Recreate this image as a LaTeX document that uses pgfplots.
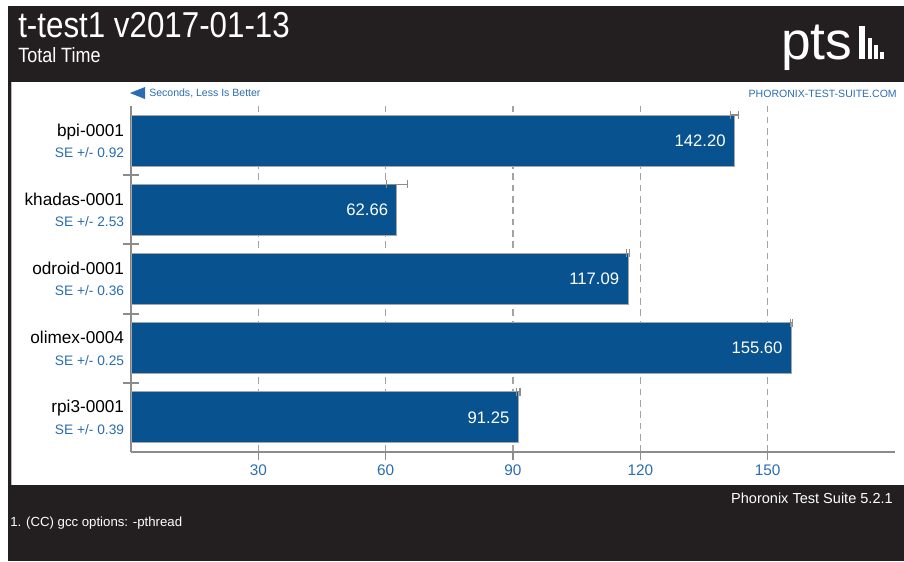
\documentclass[border=0pt]{standalone}
\usepackage{fontspec}
\setmainfont{Liberation Sans}
\newfontfamily\cond[FakeStretch=0.87]{Liberation Sans}
\usepackage{pgfplots}
\pgfplotsset{compat=1.18}
\usepackage{pgfplotstable}
\definecolor{ptsdark}{HTML}{231F20}
\definecolor{ptsbar}{HTML}{07528F}
\definecolor{ptsblue}{HTML}{2A6DB0}
\definecolor{ptsgray}{HTML}{8C8C8C}
\pgfdeclareplotmark{dcap}{\pgfpathmoveto{\pgfqpoint{0pt}{0pt}}\pgfpathlineto{\pgfqpoint{0pt}{-\pgfplotmarksize}}\pgfusepathqstroke}
% i: position (bottom=0), v: seconds, se: standard error, yt: top edge of bar
\pgfplotstableread{
i v se yt lab
4 142.20 0.92 4.37 142.20
3 62.66 2.53 3.37 62.66
2 117.09 0.36 2.37 117.09
1 155.60 0.25 1.37 155.60
0 91.25 0.39 0.37 91.25
}\data
\begin{document}
\begin{tikzpicture}
\begin{scope}[x=0.75pt,y=-0.75pt]
\useasboundingbox (0,0) rectangle (904,561);
\fill[white] (0,0) rectangle (904,561);
\fill[ptsdark] (8,6) rectangle (904,561);
\fill[white] (11,82) rectangle (904,485);
\draw[ptsgray!60, line width=0.8pt] (11.5,82) -- (11.5,485);
\node[anchor=base west, text=white, inner sep=0pt, font=\cond\fontsize{27}{27}\selectfont] at (18,37) {t-test1 v2017-01-13};
\node[anchor=base west, text=white, inner sep=0pt, font=\cond\fontsize{15.5}{16}\selectfont] at (18,62) {Total Time};
% logo
\node[anchor=base west, text=white, inner sep=0pt, font=\fontsize{40}{40}\selectfont] at (781,59) {pts};
\fill[white] (859,26) rectangle (865,59);
\fill[white] (868,38) rectangle (872,59);
\fill[white] (874,45) rectangle (878,59);
\fill[white] (880,52) rectangle (884,59);
% header strip
\fill[ptsblue] (130,93) -- (145,87) -- (145,99) -- cycle;
\node[anchor=west, text=ptsblue, inner sep=0pt, font=\fontsize{7.9}{8}\selectfont] at (149,93.5) {Seconds, Less Is Better};
\node[anchor=east, text=ptsblue, inner sep=0pt, font=\fontsize{7.9}{8}\selectfont] at (897,93.5) {PHORONIX-TEST-SUITE.COM};
% footer
\node[anchor=base east, text=white, inner sep=0pt, font=\fontsize{10.9}{11}\selectfont] at (893,503) {Phoronix Test Suite 5.2.1};
\node[anchor=base west, text=white, inner sep=0pt, font=\fontsize{9.9}{11}\selectfont] at (10,526) {1. (CC) gcc options: -pthread};
\end{scope}
\begin{axis}[
  at={(98.25pt,-339pt)}, anchor=south west,
  scale only axis, width=573pt, height=259.5pt,
  xmin=0, xmax=180, ymin=-0.5, ymax=4.5,
  xbar, bar width=38.25pt, bar shift=0pt,
  axis x line*=bottom, axis y line*=left,
  axis line style={ptsgray, line width=1pt},
  xtick={30,60,90,120,150},
  ytick={0,1,2,3,4},
  /pgf/number format/assume math mode=true,
  yticklabels={
    {rpi3-0001\\[3pt]{\color{ptsblue}\fontsize{10.3}{10}\selectfont SE +/- 0.39}},
    {olimex-0004\\[3pt]{\color{ptsblue}\fontsize{10.3}{10}\selectfont SE +/- 0.25}},
    {odroid-0001\\[3pt]{\color{ptsblue}\fontsize{10.3}{10}\selectfont SE +/- 0.36}},
    {khadas-0001\\[3pt]{\color{ptsblue}\fontsize{10.3}{10}\selectfont SE +/- 2.53}},
    {bpi-0001\\[3pt]{\color{ptsblue}\fontsize{10.3}{10}\selectfont SE +/- 0.92}}},
  tick align=outside, major tick length=6pt,
  x tick style={ptsgray, line width=0.8pt},
  y tick style={draw=none},
  xmajorgrids,
  grid style={ptsgray!80, dash pattern=on 5pt off 3.5pt, line width=0.8pt},
  xticklabel style={font=\fontsize{11.5}{12}\selectfont, text=ptsblue},
  yticklabel style={align=right, font=\fontsize{12.9}{13}\selectfont, inner sep=0pt, xshift=1pt},
  clip=false,
]
\addplot[fill=ptsbar, draw=black!35, line width=0.7pt,
  nodes near coords, point meta=explicit symbolic,
  nodes near coords style={anchor=east, text=white, font=\fontsize{12.5}{12}\selectfont, xshift=-3pt}]
  table[x=v, y=i, meta=lab] {\data};
\addplot[sharp plot, draw=none, mark=none, forget plot,
  error bars/.cd, x dir=both, x explicit,
  error bar style={draw=ptsgray, line width=1pt},
  error mark=dcap, error mark options={draw=ptsgray, line width=1pt, mark size=6pt}]
  table[x=v, y=yt, x error=se] {\data};
\pgfplotsinvokeforeach{0.5,1.5,2.5,3.5}{
  \draw[ptsgray, line width=1.4pt] (axis cs:0,#1) ++(-6pt,0pt) -- ++(12pt,0pt);
}
\end{axis}
\end{tikzpicture}
\end{document}
